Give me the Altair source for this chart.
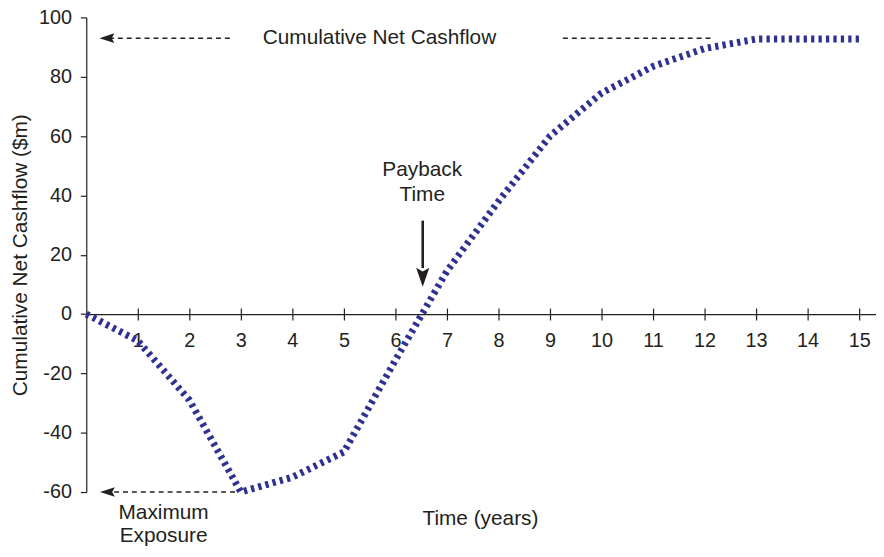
import altair as alt
import pandas as pd

# ---- data ----
years = list(range(16))
cum_cashflow = [0, -9, -29, -60, -55, -46.5, -15.5, 14.5, 38, 60, 74.5, 83.5, 89.5, 92.7, 92.7, 92.7]
x_ticks = list(range(1, 16))
y_ticks = [-60, -40, -20, 0, 20, 40, 60, 80, 100]

# annotation content (data units)
dash_x1 = [0.44, 9.25, 0.54]
dash_x2 = [2.85, 12.12, 2.94]
dash_y = [93, 93, -60]
head_left_x = [0.40, 0.41]
head_left_y = [93, -60]
payback_x = 6.53
payback_top = 31.5
payback_head_base = 15.5
payback_head_y = 12.4
label_text = ["Cumulative Net Cashflow", "Payback", "Time", "Maximum", "Exposure", "Time (years)"]
label_x = [5.69, 6.52, 6.52, 1.5, 1.5, 7.65]
label_y = [93, 48.5, 40.0, -67.0, -75.0, -69.1]

FONT = "Liberation Sans"
INK = "#231F20"
LINE = "#2E3192"

W, H = 797, 479
X_MAX = 797 / 52
Y_MIN, Y_MAX = -60, 100
zero_off = H * Y_MAX / (Y_MAX - Y_MIN)

xs = alt.Scale(domain=[0, X_MAX], nice=False, zero=False)
ys = alt.Scale(domain=[Y_MIN, Y_MAX], nice=False, zero=False)

df = pd.DataFrame({"year": years, "cf": cum_cashflow})

line = alt.Chart(df).mark_line(
    color=LINE, strokeWidth=7, strokeDash=[3.3, 4.2], strokeCap="butt", clip=False
).encode(
    x=alt.X("year:Q", scale=xs, axis=alt.Axis(
        orient="bottom", offset=-(H - zero_off), values=x_ticks,
        labelExpr="'' + datum.value", tickSize=6, labelPadding=11,
        grid=False, title=None, labelFontSize=20)),
    y=alt.Y("cf:Q", scale=ys, axis=alt.Axis(
        orient="left", values=y_ticks, labelExpr="'' + datum.value",
        tickSize=6, labelPadding=9, grid=False,
        title="Cumulative Net Cashflow ($m)", titlePadding=8,
        titleFontSize=21, titleFontWeight="normal", titleFont=FONT,
        titleColor=INK, labelFontSize=20)),
)

# upper half of the crossing ticks on the x axis
tick_df = pd.DataFrame({"t": x_ticks, "v": [0] * len(x_ticks)})
ticks_top = alt.Chart(tick_df).mark_point(opacity=0).encode(
    x=alt.X("t:Q", scale=xs, axis=alt.Axis(
        orient="top", offset=-zero_off, values=x_ticks, labels=False,
        domain=False, tickSize=6, grid=False, title=None)),
    y=alt.Y("v:Q", scale=ys, axis=None),
)

dash_df = pd.DataFrame({"x1": dash_x1, "x2": dash_x2, "y": dash_y})
dashes = alt.Chart(dash_df).mark_rule(
    color=INK, strokeWidth=1.6, strokeDash=[5, 4]
).encode(
    x=alt.X("x1:Q", scale=xs, axis=None), x2="x2:Q",
    y=alt.Y("y:Q", scale=ys, axis=None),
)

head_df = pd.DataFrame({"x": head_left_x, "y": head_left_y})
heads_left = alt.Chart(head_df).mark_point(
    shape="M -1 0 L 1 -0.65 L 0.65 0 L 1 0.65 Z", size=225,
    filled=True, color=INK, opacity=1
).encode(
    x=alt.X("x:Q", scale=xs, axis=None),
    y=alt.Y("y:Q", scale=ys, axis=None),
)

shaft_df = pd.DataFrame({"x": [payback_x], "y1": [payback_top], "y2": [payback_head_base]})
shaft = alt.Chart(shaft_df).mark_rule(color=INK, strokeWidth=2.6).encode(
    x=alt.X("x:Q", scale=xs, axis=None),
    y=alt.Y("y1:Q", scale=ys, axis=None), y2="y2:Q",
)

hd_df = pd.DataFrame({"x": [payback_x], "y": [payback_head_y]})
head_down = alt.Chart(hd_df).mark_point(
    shape="M 0 1 L -0.7 -1 L 0 -0.6 L 0.7 -1 Z", size=361,
    filled=True, color=INK, opacity=1
).encode(
    x=alt.X("x:Q", scale=xs, axis=None),
    y=alt.Y("y:Q", scale=ys, axis=None),
)

text_df = pd.DataFrame({"x": label_x, "y": label_y, "text": label_text})
texts = alt.Chart(text_df).mark_text(
    font=FONT, fontSize=21, color=INK, align="center", baseline="middle"
).encode(
    x=alt.X("x:Q", scale=xs, axis=None),
    y=alt.Y("y:Q", scale=ys, axis=None),
    text="text:N",
)

chart = alt.layer(
    line, ticks_top, dashes, heads_left, shaft, head_down, texts
).resolve_axis(
    x="independent", y="independent"
).properties(
    width=W, height=H,
    padding={"left": 79, "top": 7, "right": 0, "bottom": 55},
    autosize=alt.AutoSizeParams(type="none"),
    background="white",
).configure_view(
    stroke=None
).configure_axis(
    domainColor=INK, tickColor=INK, labelColor=INK, labelFont=FONT,
    domainWidth=1.2, tickWidth=1.2, labelFontSize=20,
)

chart.save("out.html", embed_options={"renderer": "svg", "actions": False})
